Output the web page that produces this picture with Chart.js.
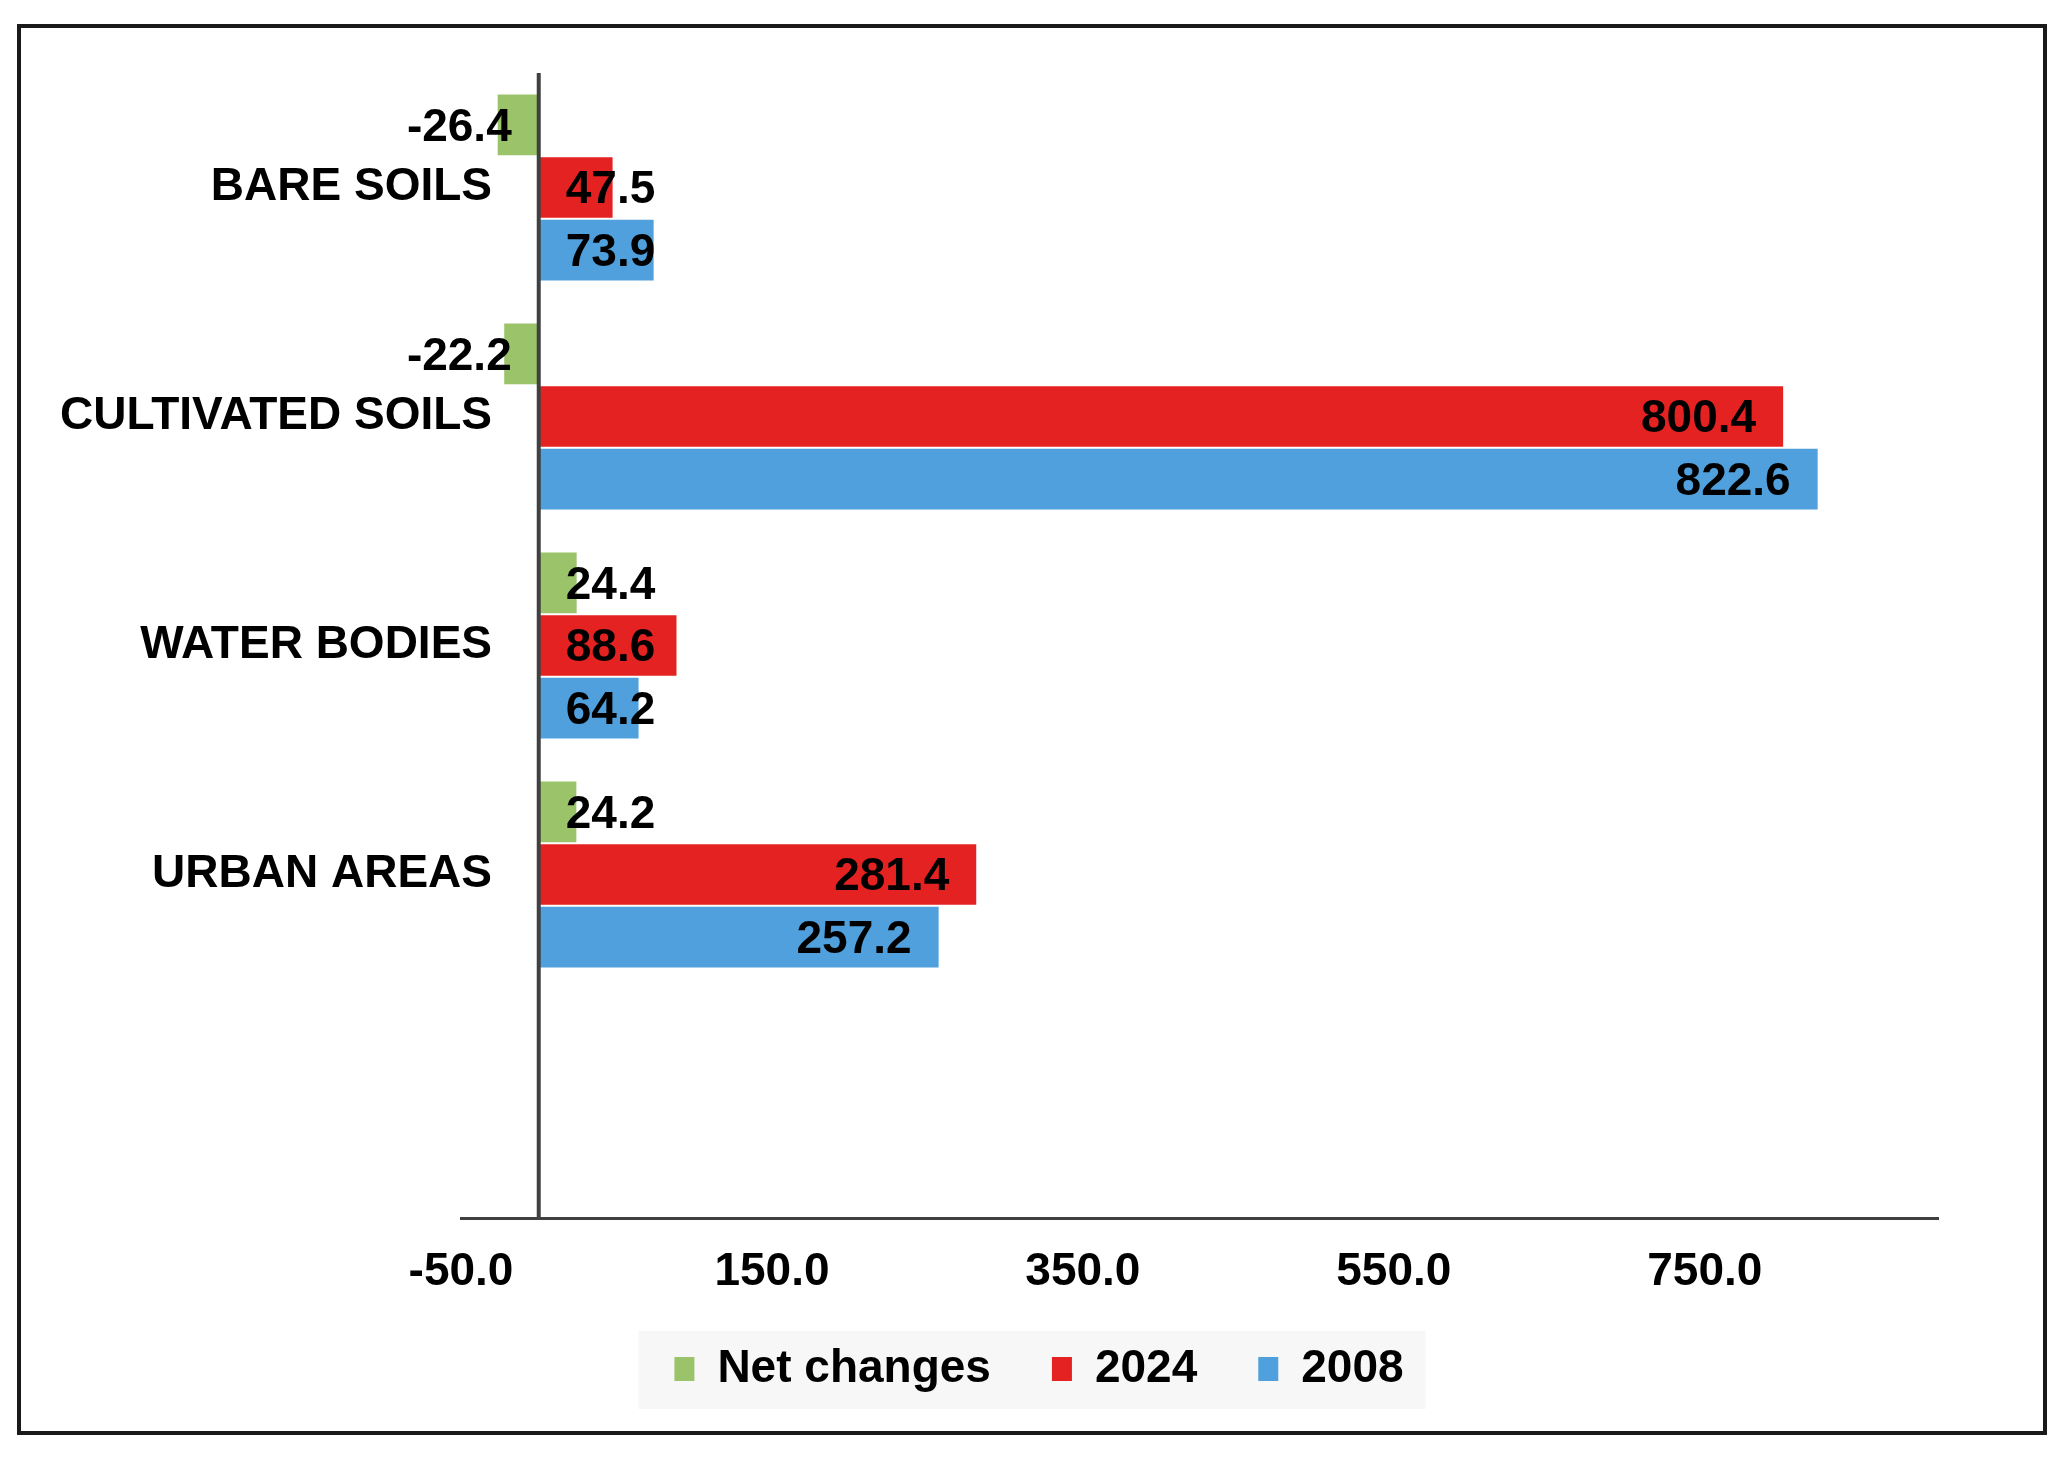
<!DOCTYPE html>
<html>
<head>
<meta charset="utf-8">
<script src="https://cdn.jsdelivr.net/npm/chart.js@4.4.0/dist/chart.umd.min.js"></script>
<style>
    html, body { margin: 0; padding: 0; background: #fff; }
    #wrap { position: absolute; left: 0; top: 0; width: 2066px; height: 1459px; }
    #marco {
        position: absolute; left: 17px; top: 24px; width: 2030px; height: 1411px;
        box-sizing: border-box; border: 4px solid #1a1a1a; pointer-events: none;
    }
</style>
</head>
<body>
<div id="wrap"><canvas id="landChart"></canvas></div>
<div id="marco"></div>
<script>
// Datos del gráfico
const categorias = ['BARE SOILS', 'CULTIVATED SOILS', 'WATER BODIES', 'URBAN AREAS', ''];
const netChanges = [-26.4, -22.2, 24.4, 24.2];
const valores2024 = [47.5, 800.4, 88.6, 281.4];
const valores2008 = [73.9, 822.6, 64.2, 257.2];
const ticksX = [-50, 150, 350, 550, 750];

const fuente = '"Liberation Sans", Arial, sans-serif';

// Ancho de la etiqueta más larga (para alinear las categorías a la derecha)
const medida = document.createElement('canvas').getContext('2d');
medida.font = 'bold 46px ' + fuente;
const anchoMax = Math.max(...categorias.map(c => medida.measureText(c).width));

// Fondo gris claro detrás de la leyenda
const fondoLeyenda = {
    id: 'fondoLeyenda',
    beforeDraw(chart) {
        const cajas = chart.legend && chart.legend.legendHitBoxes;
        if (!cajas || !cajas.length) return;
        const primera = cajas[0], ultima = cajas[cajas.length - 1];
        const cy = primera.top + primera.height / 2;
        const ctx = chart.ctx;
        ctx.save();
        ctx.fillStyle = '#f7f7f7';
        ctx.fillRect(primera.left - 36, cy - 38, (ultima.left + ultima.width + 22) - (primera.left - 36), 78);
        ctx.restore();
    }
};

// Línea vertical en x = 0 (eje de categorías)
const lineaCero = {
    id: 'lineaCero',
    afterDatasetsDraw(chart) {
        const x = chart.scales.x.getPixelForValue(0);
        const ctx = chart.ctx;
        ctx.save();
        ctx.strokeStyle = '#404040';
        ctx.lineWidth = 4;
        ctx.beginPath();
        ctx.moveTo(x, chart.chartArea.top);
        ctx.lineTo(x, chart.chartArea.bottom);
        ctx.stroke();
        ctx.restore();
    }
};

// Etiquetas de datos tipo "extremo interior"
const etiquetas = {
    id: 'etiquetas',
    afterDraw(chart) {
        const ctx = chart.ctx;
        const margen = 27;
        ctx.save();
        ctx.font = 'bold 46px ' + fuente;
        ctx.fillStyle = '#000';
        ctx.textBaseline = 'middle';
        chart.data.datasets.forEach((ds, i) => {
            const meta = chart.getDatasetMeta(i);
            meta.data.forEach((barra, j) => {
                const v = ds.data[j];
                if (v === null || v === undefined) return;
                const p = barra.getProps(['x', 'base', 'y'], true);
                const texto = v.toFixed(1);
                const w = ctx.measureText(texto).width;
                const y = p.y + 3;
                if (v >= 0) {
                    let izq = p.x - margen - w;
                    if (izq < p.base + margen) izq = p.base + margen;
                    ctx.textAlign = 'left';
                    ctx.fillText(texto, izq, y);
                } else {
                    let der = p.x + margen + w;
                    if (der > p.base - margen) der = p.base - margen;
                    ctx.textAlign = 'right';
                    ctx.fillText(texto, der, y);
                }
            });
        });
        ctx.restore();
    }
};

document.addEventListener('DOMContentLoaded', function () {
    const ctx = document.getElementById('landChart').getContext('2d');
    new Chart(ctx, {
        type: 'bar',
        data: {
            labels: categorias,
            datasets: [{
                label: 'Net changes',
                data: netChanges,
                backgroundColor: '#9bc46a'
            }, {
                label: '2024',
                data: valores2024,
                backgroundColor: '#e52222'
            }, {
                label: '2008',
                data: valores2008,
                backgroundColor: '#4fa0dc'
            }]
        },
        options: {
            indexAxis: 'y',
            responsive: true,
            maintainAspectRatio: false,
            animation: false,
            categoryPercentage: 0.82,
            barPercentage: 0.97,
            layout: {
                padding: { top: 73, left: 140, right: 128, bottom: 57 }
            },
            plugins: {
                legend: {
                    position: 'bottom',
                    labels: {
                        boxWidth: 20,
                        boxHeight: 24,
                        padding: 61,
                        color: '#000',
                        font: { family: fuente, size: 46, weight: 'bold' }
                    }
                },
                tooltip: { enabled: false }
            },
            scales: {
                x: {
                    type: 'linear',
                    min: -50,
                    max: 900,
                    afterBuildTicks: (scale) => {
                        scale.ticks = ticksX.map(v => ({ value: v }));
                    },
                    afterFit: (scale) => { scale.height = 67; },
                    grid: { display: false, drawTicks: false },
                    border: { display: true, color: '#404040', width: 3 },
                    ticks: {
                        mirror: true,
                        padding: -82,
                        color: '#000',
                        maxRotation: 0,
                        font: { family: fuente, size: 46, weight: 'bold' },
                        callback: (v) => Number(v).toFixed(1)
                    }
                },
                y: {
                    afterFit: (scale) => { scale.width = 321; },
                    grid: { display: false, drawTicks: false },
                    border: { display: false },
                    ticks: {
                        mirror: true,
                        crossAlign: 'far',
                        padding: 31 - anchoMax,
                        color: '#000',
                        font: { family: fuente, size: 46, weight: 'bold' }
                    }
                }
            }
        },
        plugins: [fondoLeyenda, lineaCero, etiquetas]
    });
});
</script>
</body>
</html>
